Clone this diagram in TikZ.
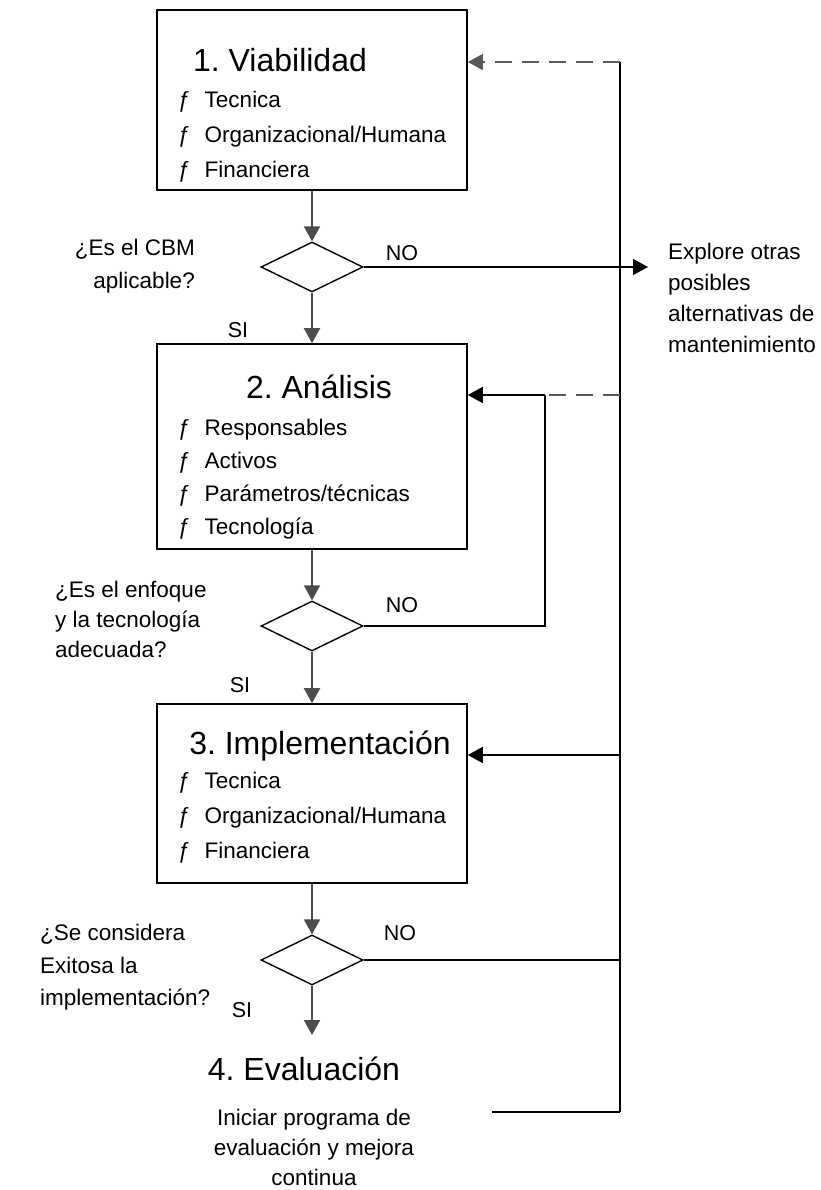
\documentclass[tikz,border=0pt]{standalone}
\usepackage{fontspec}
\setmainfont{Liberation Sans}
\usetikzlibrary{shapes.geometric, arrows.meta}
\frenchspacing

\begin{document}
\begin{tikzpicture}[x=1pt, y=-1pt,
    box/.style={draw, line width=1.6pt, minimum width=310, minimum height=180, inner sep=0},
    dec/.style={draw, diamond, aspect=2, line width=1.4pt, minimum width=102, minimum height=50, inner sep=0},
    title/.style={anchor=base, inner sep=0, font=\fontsize{32}{38}\selectfont},
    item/.style={anchor=base west, inner sep=0, font=\fontsize{22.5}{27}\selectfont},
    txt/.style={inner sep=0, font=\fontsize{22.5}{#1}\selectfont},
    txt/.default=31,
    lbl/.style={anchor=base, inner sep=0, font=\fontsize{21.5}{26}\selectfont},
    tip/.style={-{Triangle[length=15pt, width=16pt]}},
    flow/.style={draw=black!70, line width=2.2pt, tip},
    back/.style={line width=1.4pt},
    dashline/.style={draw=black!65, dash pattern=on 17pt off 10pt}]
    \useasboundingbox (0,0) rectangle (820,1190);

    \node[box] (viab) at (312,100) {};
    \node[title] (viabt) at (280,72) {1. Viabilidad};
    \foreach \t [count=\i] in {Tecnica, Organizacional/Humana, Financiera}
        \node[item] (v\i) at (178,{73+35*\i}) {ƒ\hspace{14pt}\t};

    \node[dec] (d1) at (312,267) {};
    \node[lbl] (no1) at (402,260) {NO};
    \node[lbl] (si1) at (238,337) {SI};
    \node[txt=33, align=right, anchor=north east] (q1) at (195,239) {¿Es el CBM\\aplicable?};
    \node[txt, align=left, anchor=north west, inner xsep=20] (expl) at (648,243)
        {Explore otras\\posibles\\alternativas de\\mantenimiento};

    \node[box, minimum height=205] (anal) at (312,446.5) {};
    \node[title] (analt) at (319,398) {2. Análisis};
    \foreach \t [count=\i] in {Responsables, Activos, Parámetros/técnicas, Tecnología}
        \node[item] (a\i) at (178,{402+33*\i}) {ƒ\hspace{14pt}\t};

    \node[dec] (d2) at (312,626) {};
    \node[lbl] (no2) at (402,612) {NO};
    \node[lbl] (si2) at (240,692) {SI};
    \node[txt=30, align=left, anchor=north west] (q2) at (55,581)
        {¿Es el enfoque\\y la tecnología\\adecuada?};

    \node[box, minimum height=179] (impl) at (312,793.5) {};
    \node[title] (implt) at (320,754) {3. Implementación};
    \foreach \t [count=\i] in {Tecnica, Organizacional/Humana, Financiera}
        \node[item] (im\i) at (178,{753+35*\i}) {ƒ\hspace{14pt}\t};

    \node[dec] (d3) at (312,960) {};
    \node[lbl] (no3) at (400,940) {NO};
    \node[lbl] (si3) at (242,1017) {SI};
    \node[txt=32.5, align=left, anchor=north west] (q3) at (40,924)
        {¿Se considera\\Exitosa la\\implementación?};

    \coordinate (e) at (312,1035);
    \node[title] (eval) at (304,1080) {4. Evaluación};
    \node[txt=30, align=center, anchor=north] (ini) at (314,1109)
        {Iniciar programa de\\evaluación y mejora\\continua};

    \coordinate (t1) at (620,62);
    \coordinate (t2) at (620,395);
    \coordinate (t3) at (620,755);
    \coordinate (t5) at (620,1112);
    \coordinate (j2) at (545,395);
    \coordinate (fin) at (492,1112);

    \draw[flow] (viab) -- (d1);
    \draw[flow] (d1) -- (anal);
    \draw[flow] (anal) -- (d2);
    \draw[flow] (d2) -- (impl);
    \draw[flow] (impl) -- (d3);
    \draw[flow] (d3) -- (e);

    \draw[back] (t1) -- (t5);
    \draw[back, tip] (d1.east) -- (d1.east -| expl.west);
    \draw[back, dashline, tip] (t1) -- (t1 -| viab.east);
    \draw[back, dashline] (t2) -- (j2);
    \draw[back, tip] (j2) -- (j2 -| anal.east);
    \draw[back] (d2.east) -| (j2);
    \draw[back, tip] (t3) -- (t3 -| impl.east);
    \draw[back] (d3.east) -- (d3.east -| t5);
    \draw[back] (fin) -- (t5);
\end{tikzpicture}
\end{document}
